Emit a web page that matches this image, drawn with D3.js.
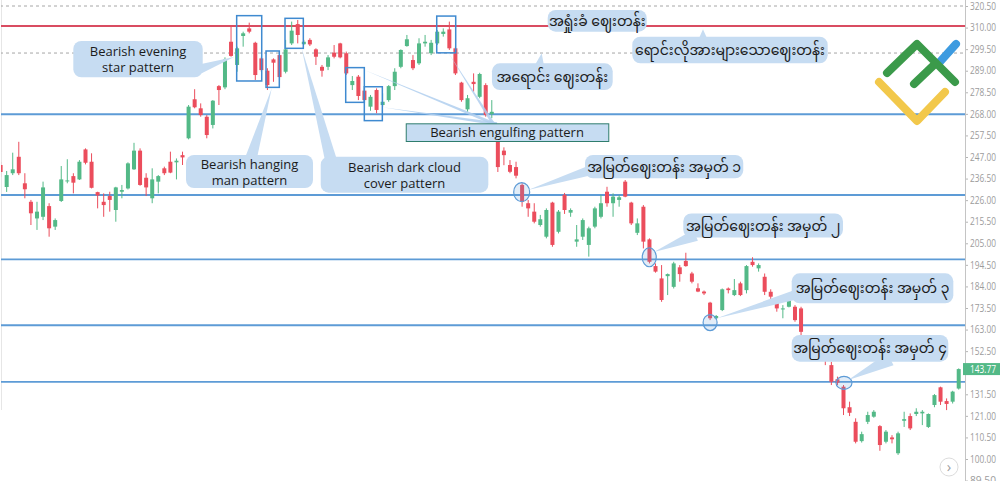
<!DOCTYPE html>
<html><head><meta charset="utf-8">
<script src="https://cdn.jsdelivr.net/npm/d3@7"></script>
<style>
html,body{margin:0;padding:0;background:#fff;overflow:hidden;}
svg{display:block;}
text{font-family:"Open Sans","Noto Sans","Noto Sans Myanmar","Padauk","Myanmar Text",sans-serif;}
</style></head><body>
<svg id="chart" width="1000" height="481"></svg>
<script>
// ---------- data ----------
const opens=[243.1,232.4,239.1,247.1,234.2,225.2,217.1,217.9,223.1,213.1,225.6,235.3,237.7,236.1,250.7,244.7,229.9,225.2,228.0,221.2,230.1,231.7,241.0,250.1,236.9,226.9,235.0,241.5,244.7,244.4,247.9,256.1,275.1,270.7,266.6,262.6,281.5,280.9,303.1,291.8,305.9,309.6,302.6,295.0,289.0,294.5,296.6,288.5,302.3,311.7,301.9,304.0,299.4,290.9,290.9,297.8,302.3,297.5,282.0,286.1,279.3,271.5,279.6,272.3,274.7,281.5,290.9,301.0,294.2,292.6,302.3,297.5,302.3,306.9,309.1,299.9,283.2,270.2,283.6,276.3,282.0,267.9,262.0,250.1,243.1,242.1,233.4,224.5,220.4,213.9,208.2,224.8,210.6,228.6,219.9,205.8,208.2,204.2,213.1,217.9,230.1,224.5,226.1,235.0,224.8,210.1,222.8,206.9,193.9,187.9,189.0,183.8,193.3,196.4,190.3,183.1,181.5,176.1,168.5,172.5,183.0,179.8,185.5,182.2,196.0,192.8,188.7,181.4,176.9,172.8,174.1,174.1,173.3,160.0,155.0,156.5,151.0,145.7,138.8,135.2,125.2,118.1,108.7,118.1,120.6,116.0,108.4,110.5,102.8,118.6,120.9,121.9,122.2,115.6,126.3,134.9,128.2,127.9,134.3];
const highs=[244.6,240.2,249.1,254.4,239.1,226.1,225.2,235.0,224.5,217.1,242.6,245.9,239.1,245.5,251.2,248.8,230.1,229.3,230.1,232.5,233.4,244.4,253.9,251.2,239.1,241.5,238.2,242.3,249.6,246.3,249.6,272.3,280.0,273.1,267.4,274.7,282.0,295.5,310.8,300.7,308.0,312.4,303.1,295.8,290.2,295.0,297.4,304.0,312.9,313.7,304.0,304.8,299.9,291.8,296.6,301.5,302.6,298.3,286.4,286.9,280.4,277.2,280.4,278.0,282.0,290.2,299.4,306.4,296.6,304.8,306.4,304.0,308.8,309.6,312.9,300.7,283.6,277.2,287.7,288.0,282.9,274.7,263.0,251.7,245.5,244.7,234.2,226.1,224.5,218.8,222.0,225.2,221.2,229.5,222.0,213.9,217.1,213.1,222.8,228.5,232.5,229.3,228.5,235.8,225.2,217.1,223.6,207.4,195.2,194.4,190.3,196.0,194.4,200.4,191.1,185.5,182.0,176.5,170.1,183.0,183.5,187.6,186.3,194.4,198.2,195.2,190.3,182.6,178.2,174.9,179.8,174.9,174.1,160.3,157.5,157.0,152.5,147.3,140.1,136.0,127.9,119.8,113.3,123.0,123.8,116.5,114.1,111.6,113.3,123.0,122.2,124.7,123.8,122.2,131.6,135.2,129.5,133.2,144.1];
const lows=[237.3,230.0,238.2,238.2,226.9,213.9,211.5,216.3,208.2,211.5,225.1,234.2,229.3,235.8,243.4,231.7,222.0,217.9,220.4,215.5,226.9,231.2,240.7,233.0,228.0,224.5,229.3,238.2,239.1,236.1,243.1,255.6,270.7,266.6,256.1,260.9,272.3,280.0,295.8,288.5,300.7,307.2,284.5,288.5,279.6,283.6,284.5,287.7,301.5,302.3,301.5,301.0,291.8,286.1,289.3,295.0,295.0,286.9,279.6,274.7,273.9,269.5,268.3,271.5,273.9,279.6,290.2,300.7,289.3,291.8,300.7,296.6,301.5,305.6,299.1,286.9,273.9,269.0,278.8,275.6,266.6,265.9,239.7,243.0,239.1,236.6,222.8,217.9,214.7,213.1,207.4,203.3,209.8,219.3,217.9,203.3,206.6,198.5,212.3,217.1,222.8,217.9,222.8,227.4,213.9,209.0,202.5,195.2,190.7,176.5,179.8,183.0,186.3,193.6,185.5,181.2,179.8,167.6,167.9,172.0,180.6,179.3,179.3,180.6,193.6,191.2,179.8,175.7,171.7,168.5,173.8,166.8,160.3,154.0,152.5,150.0,145.7,136.0,136.0,121.4,120.9,107.6,108.0,117.0,120.1,104.0,107.6,107.6,102.0,115.6,114.1,120.9,116.5,115.1,125.2,126.3,123.8,127.0,133.8];
const closes=[239.7,238.2,241.0,239.1,231.3,219.6,220.4,232.2,212.3,216.3,236.1,235.6,234.5,244.7,244.2,232.0,228.3,223.6,226.1,232.2,230.9,243.9,250.1,233.4,232.2,236.1,237.7,239.1,239.4,245.2,246.8,271.5,271.2,267.4,257.7,274.4,279.6,294.5,296.2,299.9,307.2,308.0,286.9,289.3,282.0,292.9,285.9,299.4,308.5,306.4,303.1,301.8,295.8,289.0,295.5,295.8,295.5,287.7,284.0,276.7,274.7,276.3,269.9,273.9,281.5,288.5,299.1,304.3,290.2,302.3,303.1,302.6,308.0,308.0,299.9,287.7,274.7,275.6,282.5,287.4,267.4,269.0,242.1,247.9,239.8,237.9,225.2,222.0,215.5,216.7,221.2,204.2,220.4,221.2,221.2,206.9,216.3,212.3,222.0,224.5,224.5,227.7,227.4,227.7,214.7,214.7,205.8,196.0,191.2,177.4,190.0,195.2,190.0,193.9,186.3,181.5,180.6,168.5,169.6,182.6,182.2,182.2,179.8,193.9,194.4,194.4,181.4,179.0,173.3,173.3,179.0,167.6,161.9,155.0,156.5,151.0,148.0,137.6,137.1,124.7,122.5,108.4,112.1,121.4,123.0,106.8,113.3,109.6,112.5,119.4,114.9,123.0,123.0,121.9,131.1,127.9,126.8,132.8,143.77];
const candleIndex=d3.range(opens.length);
const yTicks=[320.5,310,299.5,289,278.5,268,257.5,247,236.5,226,215.5,205,194.5,184,173.5,163,152.5,131.5,121,110.5,100,89.5];
const lastPrice=143.77;
const resistanceLevel=[310.8];
const dashedLevels=[320.5,297.6];
const supportLevels=[267.8,228.5,197.2,165.1,137.5];

// annotations in data units: [startIndex, topPrice, endIndex, bottomPrice]
const patternBoxes=[[38.93,315.8,43.06,284.0],[43.77,298.6,45.96,280.9],[46.9,314.5,49.92,299.9],[56.91,290.5,59.98,273.6],[59.98,281.2,62.95,264.7],[71.92,315.6,75.05,297.7]];
const circles=[[85.93,229.9],[106.97,198.2],[117,166.4],[139.08,137.1]];
const circleRadii=[[8,9.5],[7,9.5],[7,8],[8,6.5]];
const callouts=[
 {lines:["Bearish evening","star pattern"],box:[11.99,303.5,33.33,285.8],tip:[38.5,295.7],base:[33.33,290.3],hw:5},
 {lines:["Bearish hanging","man pattern"],box:[30.57,247.97,51.52,231.9],tip:[44.71,280.44],base:[41.46,247.97],hw:6},
 {lines:["Bearish dark cloud","cover pattern"],box:[52.79,247.15,80.43,229.62],tip:[49.65,299.9],base:[54.32,247.15],hw:6},
 {lines:["အရှုံးခံ ဈေးတန်း"],box:[90.22,318.55,106.55,307.99]},
 {lines:["ရောင်းလိုအားများသောဈေးတန်း"],box:[104.17,305.56,136.39,292.61],tip:[115.83,309.16],base:[115.83,305.56],hw:6},
 {lines:["အရောင်း ဈေးတန်း"],box:[81.03,292.6,100.94,279.61],tip:[89.23,297.47],base:[88.95,292.6],hw:6},
 {lines:["အမြတ်ဈေးတန်း အမှတ် ၁"],box:[96.37,247.97,122.47,236.63],tip:[86.97,230.93],base:[96.37,239.7],hw:5},
 {lines:["အမြတ်ဈေးတန်း အမှတ် ၂"],box:[112.58,219.5,138.92,207.8],tip:[107.75,200.76],base:[113.7,207.8],hw:6},
 {lines:["အမြတ်ဈေးတန်း အမှတ် ၃"],box:[130.46,190.39,157.11,175.79],tip:[118.09,168.48],base:[130.46,179.34],hw:5},
 {lines:["အမြတ်ဈေးတန်း အမှတ် ၄"],box:[130.46,160.36,156.28,147.36],tip:[139.79,138.45],base:[145.84,147.36],hw:7}
];
const engulfLabel={text:"Bearish engulfing pattern",box:[66.81,263.4,100.21,254.79],base:[81.2,263.4],tips:[[59.98,289.35],[62.95,271.19],[73.83,297.77]]};

// ---------- drawing ----------
const W=1000,H=481,axisX=965;
const UP="#53b987",DOWN="#eb4d5c";
const svg=d3.select("#chart");
const x=d3.scaleLinear().domain([-0.5,opens.length-0.5]).range([-2.43,961.75]);
const xb=d3.scaleBand().domain(candleIndex).range([-2.43,961.75]);
const y=d3.scaleLinear().domain([320.5,100]).range([6,459]);

svg.append("rect").attr("width",W).attr("height",H).attr("fill","#fff");
svg.append("defs").append("clipPath").attr("id","plot").append("rect").attr("x",1).attr("y",0).attr("width",axisX-1).attr("height",H);
const plot=svg.append("g").attr("clip-path","url(#plot)");

plot.append("line").attr("x1",1.5).attr("x2",1.5).attr("y1",0).attr("y2",410).attr("stroke","#e6e6e6");

plot.selectAll(".dl").data(dashedLevels).join("line").attr("x1",0).attr("x2",axisX)
 .attr("y1",d=>y(d)).attr("y2",d=>y(d)).attr("stroke","#a6a6a6").attr("stroke-width",1).attr("stroke-dasharray","3,3");
plot.selectAll(".sl").data(supportLevels).join("line").attr("x1",0).attr("x2",axisX)
 .attr("y1",d=>y(d)).attr("y2",d=>y(d)).attr("stroke","#5d9bd6").attr("stroke-width",1.8);
plot.selectAll(".rl").data(resistanceLevel).join("line").attr("x1",0).attr("x2",axisX)
 .attr("y1",d=>y(d)).attr("y2",d=>y(d)).attr("stroke","#d94c61").attr("stroke-width",2);

// logo (decorative)
const logo=svg.append("g").attr("fill","none").attr("stroke-linecap","round").attr("stroke-linejoin","round").attr("stroke-width",8);
logo.append("path").attr("d","M938,64 L956,44").attr("stroke","#3d9be0");
logo.append("path").attr("d","M887,73 L917,44 L955,82 M914,84 L936,63").attr("stroke","#3b9a4a");
logo.append("path").attr("d","M879,82 L917,121 L945,92").attr("stroke","#f2c84b");

// candles
const cg=plot.append("g");
const bw=4;
candleIndex.forEach(i=>{
 const o=opens[i],c=closes[i],h=highs[i],l=lows[i];
 const col=c>=o?UP:DOWN;
 const cx=xb(i)+xb.bandwidth()/2;
 cg.append("line").attr("x1",cx).attr("x2",cx).attr("y1",y(h)).attr("y2",y(l)).attr("stroke",col).attr("stroke-width",1);
 const top=y(Math.max(o,c)),bot=y(Math.min(o,c));
 cg.append("rect").attr("x",cx-bw/2).attr("y",top).attr("width",bw).attr("height",Math.max(1,bot-top)).attr("fill",col);
});

plot.selectAll(".pb").data(patternBoxes).join("rect")
 .attr("x",d=>x(d[0])).attr("y",d=>y(d[1])).attr("width",d=>x(d[2])-x(d[0])).attr("height",d=>y(d[3])-y(d[1]))
 .attr("fill","none").attr("stroke","#3f8ad0").attr("stroke-width",1.5);

plot.selectAll(".ci").data(circles).join("ellipse")
 .attr("cx",d=>x(d[0])).attr("cy",d=>y(d[1])).attr("rx",(d,i)=>circleRadii[i][0]).attr("ry",(d,i)=>circleRadii[i][1])
 .attr("fill","rgba(93,155,214,0.18)").attr("stroke","#5d9bd6").attr("stroke-width",1.2);

function wedge(t,b,hw,ext){
 const tx=x(t[0]),ty=y(t[1]),bx=x(b[0]),by=y(b[1]);
 let dx=bx-tx,dy=by-ty;const L=Math.hypot(dx,dy);dx/=L;dy/=L;
 const nx=-dy,ny=dx;const ex=bx+dx*ext,ey=by+dy*ext;
 return `M${tx},${ty}L${ex+nx*hw},${ey+ny*hw}L${ex-nx*hw},${ey-ny*hw}Z`;
}
const FILL="#c6dcf2";
const ag=svg.append("g");
engulfLabel.tips.forEach(t=>{
 ag.append("path").attr("d",wedge(t,engulfLabel.base,1.6,4)).attr("fill","#b0cfee").attr("opacity",0.85);
});
callouts.forEach(cb=>{
 const [i0,p0,i1,p1]=cb.box;
 const bx=x(i0),by=y(p0),bwid=x(i1)-x(i0),bh=y(p1)-y(p0);
 if(cb.tip) ag.append("path").attr("d",wedge(cb.tip,cb.base,cb.hw,6)).attr("fill",FILL);
 ag.append("rect").attr("x",bx).attr("y",by).attr("width",bwid).attr("height",bh).attr("rx",8).attr("fill",FILL);
 const cx=bx+bwid/2,cy=by+bh/2;
 const mm=/[\u1000-\u109F]/.test(cb.lines[0]);
 cb.lines.forEach((ln,k)=>{
  const n=cb.lines.length;
  const base=n===1?cy+5:cy-3+16*k;
  ag.append("text").attr("x",cx).attr("y",base).attr("text-anchor","middle")
   .attr("font-size",mm?14:13).attr("fill","#1b1b1b").text(ln);
 });
});
{
 const [i0,p0,i1,p1]=engulfLabel.box;
 const bx=x(i0),by=y(p0),bwid=x(i1)-x(i0),bh=y(p1)-y(p0);
 ag.append("rect").attr("x",bx+0.5).attr("y",by+0.5).attr("width",bwid).attr("height",bh).attr("fill",FILL).attr("stroke","#2f7d6d").attr("stroke-width",1);
 ag.append("text").attr("x",bx+bwid/2).attr("y",by+bh/2+5).attr("text-anchor","middle").attr("font-size",13).attr("fill","#1b1b1b").text(engulfLabel.text);
}

// right axis
const ax=svg.append("g").attr("transform",`translate(${axisX},0)`)
 .call(d3.axisRight(y).tickValues(yTicks).tickFormat(d3.format(".2f")).tickSize(3).tickPadding(2).tickSizeOuter(0));
ax.select(".domain").remove();
ax.selectAll(".tick line").attr("stroke","#b5b5b5");
ax.selectAll(".tick text").attr("fill","#9c9c9c").attr("font-size",10).attr("font-family","Liberation Sans, Arial, sans-serif")
 .attr("textLength",26).attr("lengthAdjust","spacingAndGlyphs");
svg.append("line").attr("x1",axisX+0.5).attr("x2",axisX+0.5).attr("y1",0).attr("y2",H).attr("stroke","#c4c4c4");

// last price label
const lp=svg.append("g");
lp.append("rect").attr("x",axisX-2).attr("y",y(lastPrice)-6).attr("width",W-axisX+2).attr("height",12).attr("fill",UP);
lp.append("text").attr("x",axisX+5).attr("y",y(lastPrice)+3.5).attr("fill","#fff").attr("font-size",10)
 .attr("font-family","Liberation Sans, Arial, sans-serif").attr("textLength",26).attr("lengthAdjust","spacingAndGlyphs")
 .text(d3.format(".2f")(lastPrice));

// scroll button
svg.append("circle").attr("cx",949).attr("cy",467).attr("r",9).attr("fill","#fff").attr("stroke","#dcdcdc");
svg.append("text").attr("x",949).attr("y",472).attr("text-anchor","middle").attr("font-size",15).attr("fill","#a0a0a0").text("›");
</script>
</body></html>
